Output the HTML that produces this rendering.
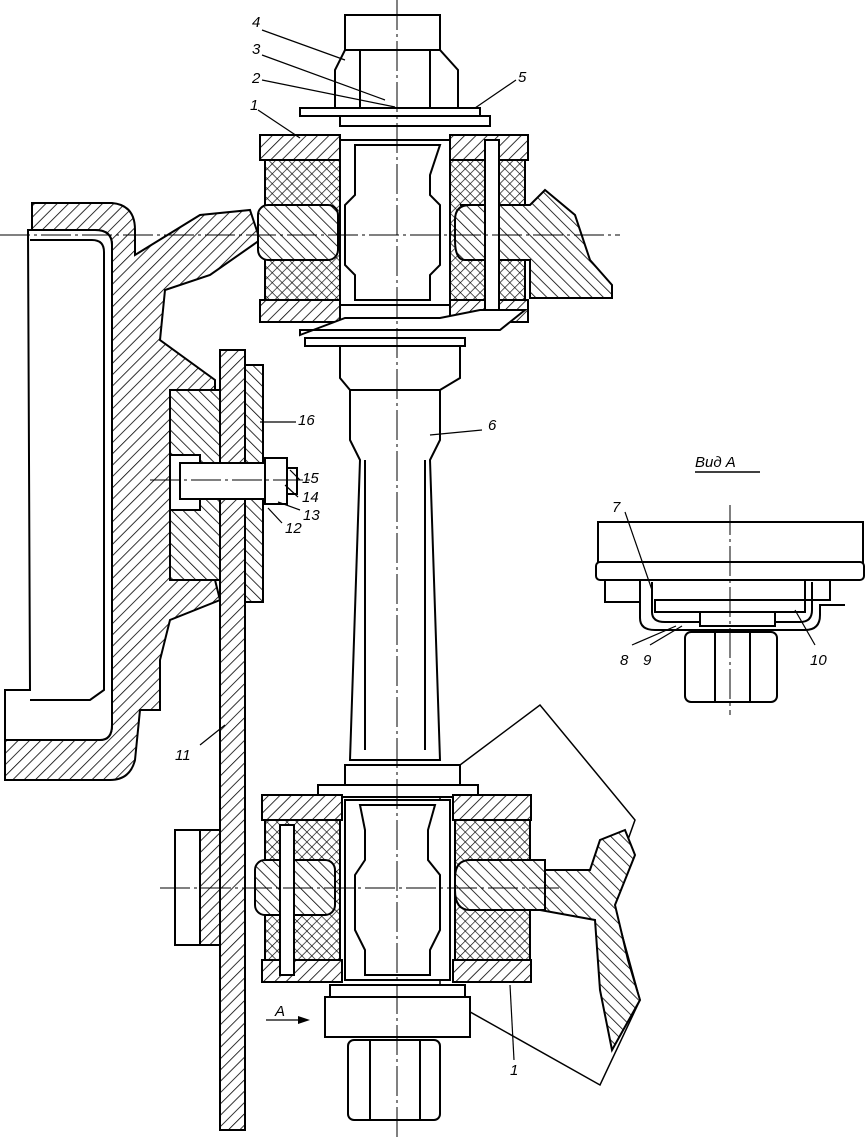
<!DOCTYPE html>
<html><head><meta charset="utf-8"><style>
html,body{margin:0;padding:0;background:#fff;}
svg{display:block}
text{font-family:"Liberation Sans",sans-serif;font-style:italic;font-size:15px;fill:#000}
</style></head><body>
<svg width="865" height="1141" viewBox="0 0 865 1141" xmlns="http://www.w3.org/2000/svg">
<defs>
<pattern id="h" width="8" height="8" patternUnits="userSpaceOnUse" patternTransform="rotate(45)">
<rect width="8" height="8" fill="#fff"/><line x1="0" y1="0" x2="0" y2="8" stroke="#000" stroke-width="1.6"/></pattern>
<pattern id="h2" width="8" height="8" patternUnits="userSpaceOnUse" patternTransform="rotate(-45)">
<rect width="8" height="8" fill="#fff"/><line x1="0" y1="0" x2="0" y2="8" stroke="#000" stroke-width="1.6"/></pattern>
<pattern id="x" width="7" height="7" patternUnits="userSpaceOnUse" patternTransform="rotate(45)">
<rect width="7" height="7" fill="#fff"/><line x1="0" y1="0" x2="0" y2="7" stroke="#000" stroke-width="1.3"/><line x1="0" y1="0" x2="7" y2="0" stroke="#000" stroke-width="1.3"/></pattern>
</defs>
<g stroke="#000" stroke-width="2" fill="none">
<path d="M32 203 H112 Q135 205 135 230 V255 L200 215 L250 210 L260 240 L210 275 L165 290 L160 340 L215 380 L215 390 L170 390 L170 580 L215 580 L220 600 L170 620 L160 660 L160 710 L140 710 L135 760 Q130 780 110 780 H5 V740 H100 Q112 740 112 725 V245 Q112 230 95 230 H32 Z" fill="url(#h)"/>
<path d="M30 230 H95 Q112 230 112 245 V725 Q112 740 100 740 H5 V690 L30 690 L28 230 Z" fill="#fff"/>
<path d="M30 240 H92 Q104 240 104 252 V690 L90 700 L30 700" />
<rect x="170" y="390" width="50" height="190" fill="url(#h2)"/>
<rect x="170" y="455" width="30" height="55" fill="#fff"/>
<rect x="220" y="350" width="25" height="780" fill="url(#h)"/>
<rect x="245" y="365" width="18" height="237" fill="url(#h2)"/>
<path d="M175 830 H220 V945 H175 Z" fill="#fff"/>
<rect x="200" y="830" width="20" height="115" fill="url(#h)"/>
<rect x="180" y="463" width="90" height="36" fill="#fff"/>
<rect x="265" y="458" width="22" height="46" fill="#fff"/>
<rect x="287" y="468" width="10" height="26" fill="#fff"/>
<rect x="345" y="15" width="95" height="35" fill="#fff"/>
<path d="M345 50 H440 L458 70 V108 H335 V70 Z" fill="#fff"/>
<line x1="360" y1="50" x2="360" y2="108"/><line x1="430" y1="50" x2="430" y2="108"/>
<rect x="300" y="108" width="180" height="8" fill="#fff"/>
<rect x="340" y="116" width="150" height="10" fill="#fff"/>
<rect x="260" y="135" width="80" height="25" fill="url(#h)"/>
<rect x="450" y="135" width="78" height="25" fill="url(#h)"/>
<rect x="265" y="160" width="75" height="140" fill="url(#x)"/>
<rect x="450" y="160" width="75" height="140" fill="url(#x)"/>
<rect x="258" y="205" width="80" height="55" rx="10" fill="url(#h2)"/>
<path d="M460 205 H530 L545 190 L575 215 L590 260 L612 285 V298 H530 V260 H465 Q455 260 455 240 V220 Q455 205 470 205 Z" fill="url(#h2)"/>
<rect x="260" y="300" width="80" height="22" fill="url(#h)"/>
<rect x="450" y="300" width="78" height="22" fill="url(#h)"/>
<rect x="340" y="140" width="110" height="165" fill="#fff"/>
<path d="M355 145 H440 L430 175 V195 L440 205 V265 L430 275 V300 H355 V275 L345 265 V205 L355 195 V175 Z" fill="#fff"/>
<rect x="485" y="140" width="14" height="170" fill="#fff"/>
<path d="M300 335 L345 318 H440 L480 310 H525 L500 330 H300 Z" fill="#fff"/>
<rect x="305" y="338" width="160" height="8" fill="#fff"/>
<path d="M340 346 H460 V378 L440 390 H350 L340 378 Z" fill="#fff"/>
<path d="M350 390 H440 V440 L430 460 L440 760 H350 L360 460 L350 440 Z" fill="#fff"/>
<path d="M365 460 V750 M425 460 V750"/>
<path d="M440 780 L540 705 L635 820 L610 890 L640 1000 L600 1085 L440 995 Z" fill="#fff" stroke-width="1.5"/>
<path d="M530 870 H590 L600 840 L625 830 L635 855 L615 905 L628 960 L640 1000 L612 1050 L600 990 L595 920 L540 910 Z" fill="url(#h2)"/>
<rect x="345" y="765" width="115" height="20" fill="#fff"/>
<rect x="318" y="785" width="160" height="12" fill="#fff"/>
<rect x="262" y="795" width="80" height="25" fill="url(#h)"/>
<rect x="453" y="795" width="78" height="25" fill="url(#h)"/>
<rect x="265" y="820" width="75" height="140" fill="url(#x)"/>
<rect x="455" y="820" width="75" height="140" fill="url(#x)"/>
<rect x="255" y="860" width="80" height="55" rx="10" fill="url(#h2)"/>
<path d="M470 860 H545 V910 H470 Q455 910 455 890 V878 Q455 860 470 860 Z" fill="url(#h2)"/>
<rect x="262" y="960" width="80" height="22" fill="url(#h)"/>
<rect x="453" y="960" width="78" height="22" fill="url(#h)"/>
<rect x="345" y="800" width="105" height="180" fill="#fff"/>
<path d="M360 805 H435 L428 830 V860 L440 875 V930 L430 950 V975 H365 V950 L355 930 V875 L365 860 V830 Z" fill="#fff"/>
<rect x="280" y="825" width="14" height="150" fill="#fff"/>
<rect x="330" y="985" width="135" height="12" fill="#fff"/>
<rect x="325" y="997" width="145" height="40" fill="#fff"/>
<rect x="348" y="1040" width="92" height="80" rx="6" fill="#fff"/>
<line x1="370" y1="1040" x2="370" y2="1120"/><line x1="420" y1="1040" x2="420" y2="1120"/>
<rect x="598" y="522" width="265" height="42" fill="#fff"/>
<rect x="596" y="562" width="268" height="18" rx="4" fill="#fff"/>
<rect x="605" y="580" width="35" height="22" fill="#fff"/>
<rect x="805" y="580" width="25" height="20" fill="#fff"/>
<path d="M652 582 V612 Q652 622 665 622 H800 Q812 622 812 610 V582" />
<path d="M640 582 V618 Q640 630 655 630 H805 Q820 630 820 615 V605 H845"/>
<rect x="655" y="600" width="150" height="12"/>
<rect x="700" y="612" width="75" height="14" fill="#fff"/>
<rect x="685" y="632" width="92" height="70" rx="6" fill="#fff"/>
<line x1="715" y1="632" x2="715" y2="702"/><line x1="750" y1="632" x2="750" y2="702"/>
<line x1="695" y1="472" x2="760" y2="472" stroke-width="1.5"/>
</g>
<g stroke="#000" stroke-width="1" stroke-dasharray="30 4 3 4" fill="none">
<line x1="397" y1="0" x2="397" y2="1141"/>
<line x1="730" y1="505" x2="730" y2="715"/>
<line x1="0" y1="235" x2="620" y2="235"/>
<line x1="150" y1="480" x2="310" y2="480"/>
<line x1="160" y1="888" x2="560" y2="888"/>
</g>
<g stroke="#000" stroke-width="1.2">
<line x1="262" y1="30" x2="345" y2="60"/>
<line x1="262" y1="55" x2="385" y2="100"/>
<line x1="262" y1="80" x2="395" y2="107"/>
<line x1="258" y1="110" x2="300" y2="138"/>
<line x1="516" y1="80" x2="475" y2="108"/>
<line x1="482" y1="430" x2="430" y2="435"/>
<line x1="296" y1="422" x2="260" y2="422"/>
<line x1="300" y1="480" x2="290" y2="470"/>
<line x1="298" y1="497" x2="285" y2="485"/>
<line x1="300" y1="510" x2="278" y2="502"/>
<line x1="282" y1="523" x2="268" y2="508"/>
<line x1="200" y1="745" x2="225" y2="725"/>
<line x1="514" y1="1060" x2="510" y2="985"/>
<line x1="266" y1="1020" x2="300" y2="1020"/>
<line x1="625" y1="512" x2="652" y2="590"/>
<line x1="632" y1="645" x2="676" y2="626"/>
<line x1="650" y1="645" x2="682" y2="626"/>
<line x1="815" y1="645" x2="795" y2="610"/>
</g>
<path d="M310 1020 L298 1016 L298 1024 Z" fill="#000"/>
<text x="252" y="27">4</text><text x="252" y="54">3</text><text x="252" y="83">2</text>
<text x="250" y="110">1</text><text x="518" y="82">5</text><text x="488" y="430">6</text>
<text x="298" y="425">16</text><text x="302" y="483">15</text><text x="302" y="502">14</text>
<text x="303" y="520">13</text><text x="285" y="533">12</text><text x="175" y="760">11</text>
<text x="510" y="1075">1</text><text x="275" y="1016">A</text>
<text x="695" y="467">Вид А</text>
<text x="612" y="512">7</text><text x="620" y="665">8</text><text x="643" y="665">9</text><text x="810" y="665">10</text>
</svg>
</body></html>
